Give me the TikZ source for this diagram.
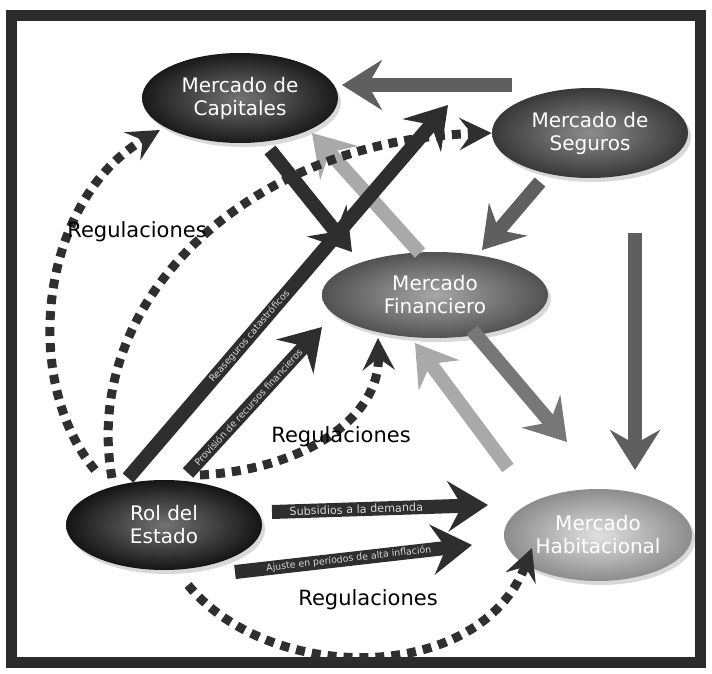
\documentclass[tikz,border=0pt]{standalone}
\usepackage{fontspec}
\setmainfont{DejaVu Sans}
\usetikzlibrary{arrows.meta,shapes.geometric,calc,shadows}
\definecolor{frameGray}{HTML}{2B2B2B}
\definecolor{barDark}{HTML}{2E2E2E}
\definecolor{barMid}{HTML}{5F5F5F}
\definecolor{barLight}{HTML}{A9A9A9}
\definecolor{dotGray}{HTML}{2F2F2F}

\begin{document}
\begin{tikzpicture}[
  x=0.5pt,y=-0.5pt,
  market/.style={ellipse,shade,drop shadow={opacity=0.3,shadow xshift=1.5pt,shadow yshift=-2pt},align=center,inner sep=0pt,minimum width=98pt,minimum height=45pt,text=white,font=\fontsize{10}{11.5}\selectfont},
  bar/.style={line width=7pt,-{Stealth[length=20pt,width=25pt,inset=7pt]}},
  regul/.style={draw=dotGray,line width=4.5pt,dash pattern=on 4.5pt off 3.5pt,-{Stealth[length=16pt,width=16pt,inset=6pt]}},
  barlabel/.style={sloped,font=\fontsize{4.7}{5}\selectfont},
  biglabel/.style={font=\fontsize{7.5}{8}\selectfont},
  reglabel/.style={font=\fontsize{10.5}{12}\selectfont}
]
\useasboundingbox (0,0) rectangle (712,674);
\draw[frameGray,line width=5.5pt] (11.5,15.5) rectangle (700.5,662.5);

% mercados
\node[market,inner color=black!55,outer color=black!90] (C) at (240,98) {Mercado de\\Capitales};
\node[market,inner color=black!45,outer color=black!78] (S) at (590,133) {Mercado de\\Seguros};
\node[market,minimum width=113pt,minimum height=43pt,inner color=black!35,outer color=black!68] (F) at (435,295) {Mercado\\Financiero};
\node[market,inner color=black!55,outer color=black!92] (R) at (164,525) {Rol del\\Estado};
\node[market,minimum width=94pt,minimum height=46pt,inner color=black!12,outer color=black!45] (H) at (598,535) {Mercado\\Habitacional};

% flujos
\draw[bar,barLight] ($(F)+(-15,-42)$) -- ($(C)+(72,35)$);
\draw[bar,barMid] ($(S)+(-78,-48)$) -- ($(C)+(102,-13)$)
  node[biglabel,pos=0.42] {seguros};
\draw[bar,barDark] ($(R)+(-36,-47)$) -- ($(S)+(-142,-28)$)
  node[barlabel,pos=0.38,text=black!15] {Reaseguros catastróficos};
\draw[bar,barDark] ($(C)+(30,52)$) -- ($(F)+(-83,-43)$);
\draw[bar,barDark] ($(R)+(24,-52)$) -- ($(F)+(-113,32)$)
  node[barlabel,pos=0.45,text=black!15] {Provisión de recursos financieros};
\draw[bar,barMid] ($(S)+(-50,49)$) -- ($(F)+(47,-45)$)
  node[biglabel,sloped,pos=0.45] {seguros};
\draw[bar,barMid] ($(S)+(45,100)$) -- ($(H)+(37,-65)$)
  node[biglabel,rotate=-90,pos=0.42] {seguros};
\draw[bar,barLight] ($(H)+(-90,-67)$) -- ($(F)+(-20,48)$)
  node[biglabel,sloped,pos=0.46] {ahorro};
\draw[bar,barMid!85] ($(F)+(37,35)$) -- ($(H)+(-31,-93)$)
  node[barlabel,font=\fontsize{6}{7}\selectfont,pos=0.42] {financiamiento};
\draw[bar,barDark] ($(R)+(108,-13)$) -- ($(H)+(-110,-30)$)
  node[barlabel,font=\fontsize{5.6}{6}\selectfont,pos=0.39,text=black!15] {Subsidios a la demanda};
\draw[bar,barDark] ($(R)+(71,47)$) -- ($(H)+(-126,10)$)
  node[barlabel,pos=0.48,text=black!15] {Ajuste en períodos de alta inflación};

% regulaciones
\draw[regul] ($(R)+(-69,-55)$) .. controls (20,380) and (40,200) .. ($(C)+(-80,32)$);
\draw[regul] ($(R)+(-52,-47)$) .. controls (80,300) and (250,140) .. (S.west);
\draw[regul] ($(R)+(36,-50)$) .. controls (300,470) and (380,420) .. ($(F)+(-57,43)$);
\draw[regul] ($(R)+(24,60)$) .. controls (270,685) and (480,685) .. ($(H)+(-66,13)$);
\node[reglabel] (reg1) at (137,232) {Regulaciones};
\node[reglabel] (reg2) at (341,437) {Regulaciones};
\node[reglabel] (reg3) at (368,600) {Regulaciones};
\end{tikzpicture}
\end{document}
